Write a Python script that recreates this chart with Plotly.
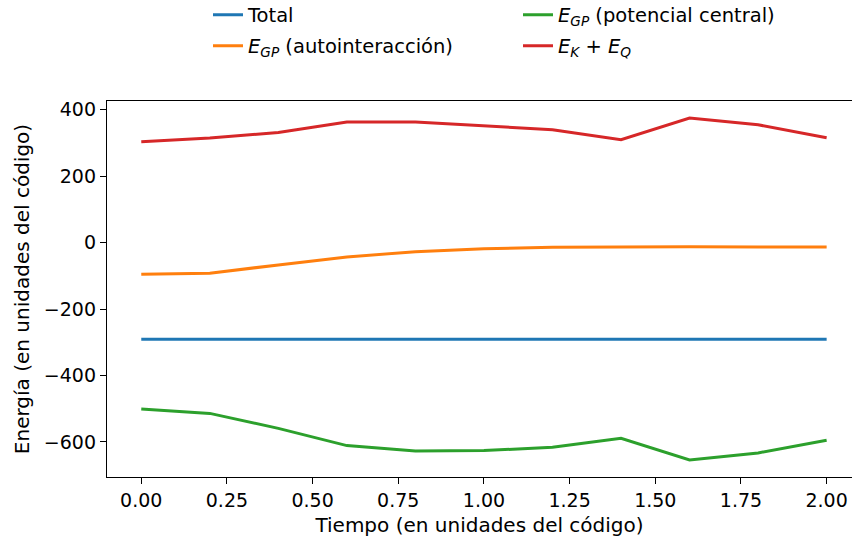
import plotly.graph_objects as go

tiempo = [0.0, 0.2, 0.4, 0.6, 0.8, 1.0, 1.2, 1.4, 1.6, 1.8, 2.0]
total = [-291, -291, -291, -291, -291, -291, -291, -291, -291, -291, -291]
egp_auto = [-95, -92, -67, -43, -27, -18, -14, -12, -12, -13, -13]
egp_central = [-501, -514, -559, -611, -627, -626, -616, -589, -654, -633, -595]
ek_eq = [304, 315, 332, 363, 363, 352, 340, 310, 375, 355, 316]

x_ticks = [0.0, 0.25, 0.5, 0.75, 1.0, 1.25, 1.5, 1.75, 2.0]
x_ticklabels = ["0.00", "0.25", "0.50", "0.75", "1.00", "1.25", "1.50", "1.75", "2.00"]
y_ticks = [-600, -400, -200, 0, 200, 400]
y_ticklabels = ["\u2212600", "\u2212400", "\u2212200", "0", "200", "400"]

FONT = "DejaVu Sans"
FS = 19
FS_TITLE = 20
FS_LEG = 19.5

series = [
    ("Total", total, "#1f77b4", "legend"),
    ("<i>E</i><sub><i>GP</i></sub> (autointeracción)", egp_auto, "#ff7f0e", "legend2"),
    ("<i>E</i><sub><i>GP</i></sub> (potencial central)", egp_central, "#2ca02c", "legend3"),
    ("<i>E</i><sub><i>K</i></sub> + <i>E</i><sub><i>Q</i></sub>", ek_eq, "#d62728", "legend4"),
]

fig = go.Figure()
for name, vals, color, lg in series:
    fig.add_trace(go.Scatter(x=tiempo, y=vals, mode="lines", name=name, showlegend=True,
                             line=dict(color=color, width=3), legend=lg))

W, H = 852, 547
L, R, T, B = 107, 0, 101, 70
pw = W - L - R

def lx(px):
    return (px - L) / pw

def ly(py):
    return 1 - py / H

leg_common = dict(font=dict(family=FONT, size=FS_LEG, color="black"), bgcolor="rgba(0,0,0,0)",
                  xanchor="left", yanchor="middle", yref="container", visible=True)
fig.update_layout(
    showlegend=True,
    legend=dict(x=lx(208), y=ly(15), **leg_common),
    legend2=dict(x=lx(208), y=ly(46), **leg_common),
    legend3=dict(x=lx(518), y=ly(15), **leg_common),
    legend4=dict(x=lx(518), y=ly(46), **leg_common),
)

fig.update_layout(
    width=W, height=H,
    margin=dict(l=L, r=R, t=T, b=B),
    paper_bgcolor="white", plot_bgcolor="white",
    font=dict(family=FONT, size=FS, color="black"),
    xaxis=dict(range=[-0.1, 2.074], tickvals=x_ticks, ticktext=x_ticklabels,
               showgrid=False, zeroline=False, showline=True, linecolor="black", linewidth=1.3,
               mirror=True, ticks="outside", ticklen=6, tickwidth=1.3, tickcolor="black",
               tickfont=dict(size=FS),
               title=dict(text="Tiempo (en unidades del código)", font=dict(size=FS_TITLE), standoff=8)),
    yaxis=dict(range=[-705.5, 426.5], tickvals=y_ticks, ticktext=y_ticklabels,
               showgrid=False, zeroline=False, showline=True, linecolor="black", linewidth=1.3,
               ticks="outside", ticklen=6, tickwidth=1.3, tickcolor="black",
               tickfont=dict(size=FS),
               title=dict(text="Energía (en unidades del código)", font=dict(size=FS_TITLE), standoff=8)),
)

fig.write_html("out.html", config={"displayModeBar": False},
               post_script="document.body.style.margin='0';document.body.style.padding='0';")
